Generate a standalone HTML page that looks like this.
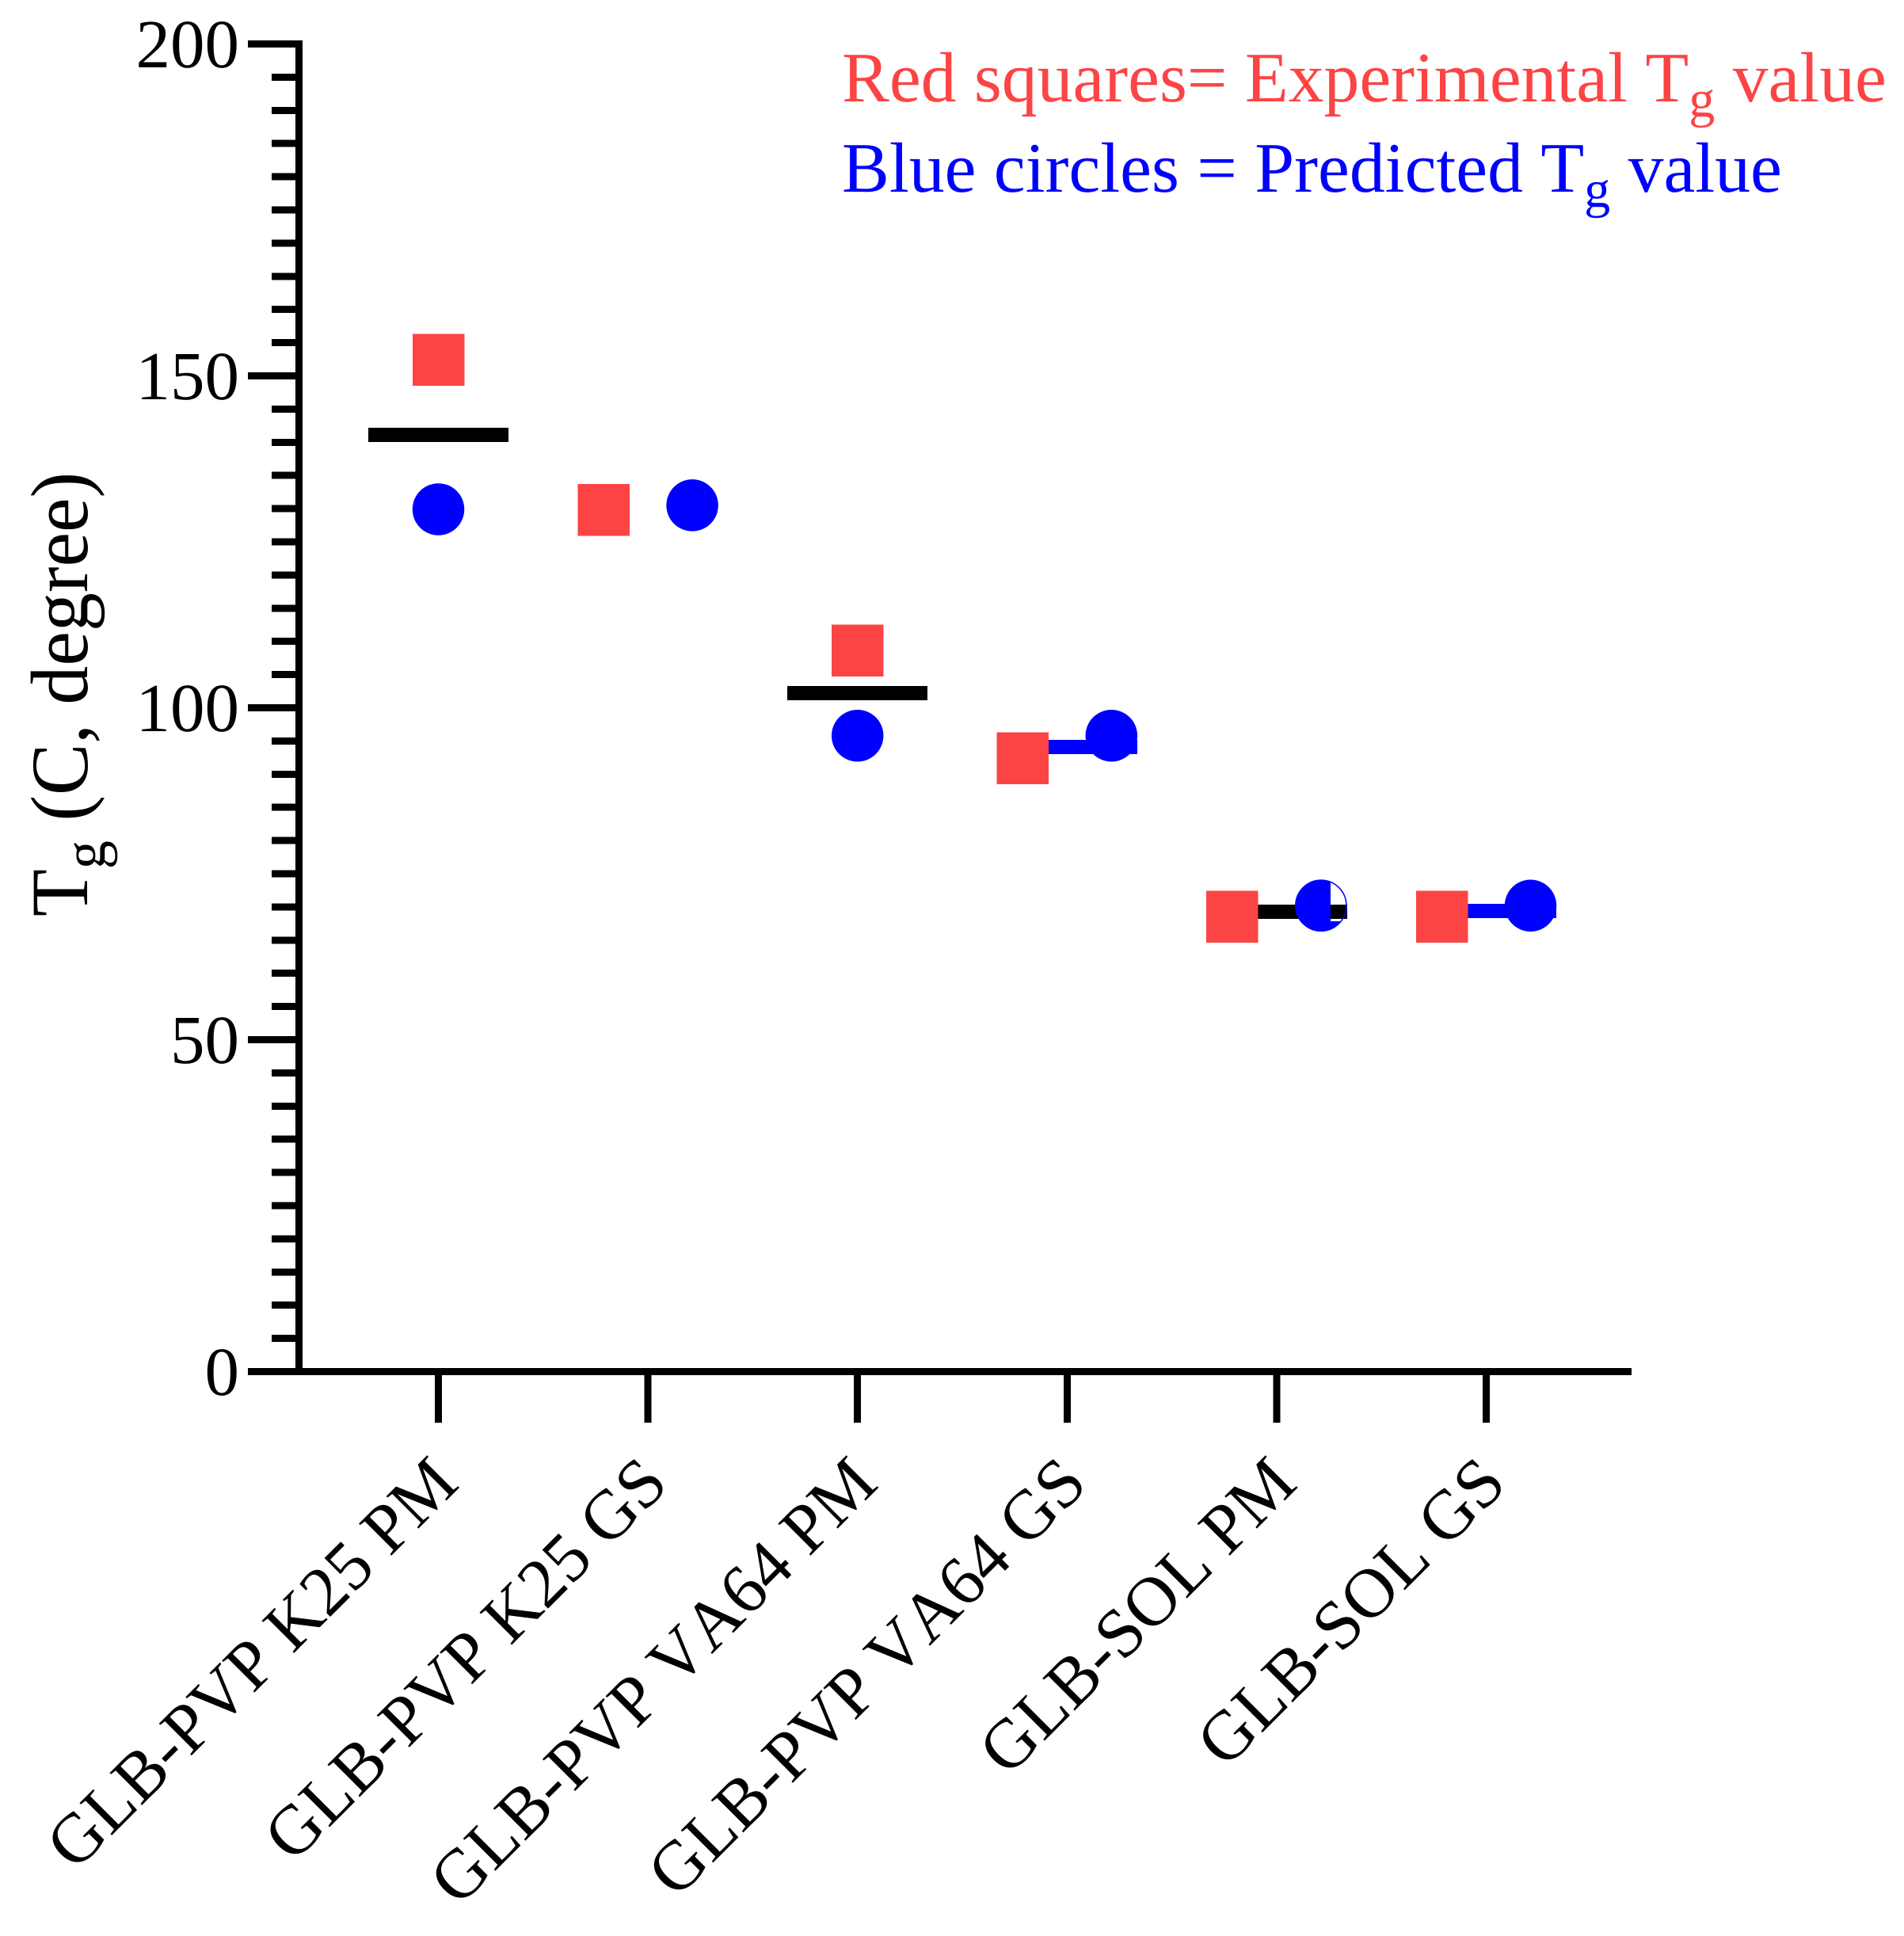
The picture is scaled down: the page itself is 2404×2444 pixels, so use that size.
<!DOCTYPE html>
<html lang="en">
<head>
<meta charset="utf-8">
<title>Tg chart</title>
<style>
html,body{margin:0;padding:0;background:#fff;}
svg{display:block;}
text{font-family:"Liberation Serif","Times New Roman",serif;font-kerning:none;text-rendering:geometricPrecision;}
.axis{fill:#000;}
.tick-label{font-size:87px;fill:#000;text-anchor:end;}
.cat-label{font-size:88px;fill:#000;text-anchor:end;}
.legend{font-size:89.7px;}
</style>
</head>
<body>
<svg id="chart" xmlns="http://www.w3.org/2000/svg" width="2404" height="2444" viewBox="0 0 2404 2444">
  <rect x="0" y="0" width="2404" height="2444" fill="#fff"/>
  <g id="axes" shape-rendering="crispEdges"></g>
  <g id="marks"></g>
  <g id="labels"></g>
  <text transform="translate(110,1157) rotate(-90) scale(1,1.05)" font-size="98" fill="#000">T<tspan font-size="72" dy="21">g</tspan><tspan dy="-21"> (C, degree)</tspan></text>
  <text class="legend" x="1063" y="128" fill="#FC4444">Red squares= Experimental T<tspan font-size="66" dy="19">g</tspan><tspan dy="-19"> value</tspan></text>
  <text class="legend" x="1063" y="242" fill="#0000FF">Blue circles = Predicted T<tspan font-size="66" dy="19">g</tspan><tspan dy="-19"> value</tspan></text>
</svg>
<script>
const categories = ["GLB-PVP K25 PM", "GLB-PVP K25 GS", "GLB-PVP VA64 PM", "GLB-PVP VA64 GS", "GLB-SOL PM", "GLB-SOL GS"];
const experimental = [152.4, 129.8, 108.65, 92.4, 68.5, 68.5];
const predicted = [129.9, 130.5, 95.8, 95.8, 70.2, 70.2];
const means = [141.1, null, 102.2, 94.1, 69.3, 69.4];
const majorTicks = [0, 50, 100, 150, 200];
const minorStep = [5];

const NS = "http://www.w3.org/2000/svg";
const RED = "#FC4444", BLUE = "#0000FF";
const X0 = 553.5, XSTEP = 264.6, Y0 = 1731.5, YUNIT = 8.38;
const SYM = 65.5, SWARM = 56, MEAN_W = 177, MEAN_H = 18;

function xScale(i) { return X0 + XSTEP * i; }
function yScale(v) { return Y0 - YUNIT * v; }
function make(tag, parent, attrs) {
  const el = document.createElementNS(NS, tag);
  for (const k in attrs) el.setAttribute(k, attrs[k]);
  parent.appendChild(el);
  return el;
}

const axes = document.getElementById("axes");
const marks = document.getElementById("marks");
const labels = document.getElementById("labels");

const yTop = yScale(Math.max.apply(null, majorTicks));
const yAxisLine = make("rect", axes, {x: 373, y: yTop - 4.5, width: 9, height: Y0 - yTop + 9, class: "axis"});


const xAxisLine = make("rect", axes, {x: 313, y: Y0 - 4.5, width: 1747, height: 9, class: "axis"});



for (let v = 0; v <= 200; v += minorStep[0]) {
  const major = majorTicks.indexOf(v) >= 0;
  const left = major ? 313 : 343;
  const t = make("rect", axes, {x: left, y: yScale(v) - 4.5, width: 373 - left, height: 9, class: "axis"});
  
  
}

majorTicks.forEach(function (v) {
  const t = make("text", labels, {x: 302, y: yScale(v) + 29.5, class: "tick-label"});
  t.textContent = String(v);
  
  
});

categories.forEach(function (name, i) {
  const cx = xScale(i);
  const tick = make("rect", axes, {x: cx - 4.5, y: Y0, width: 9, height: 64.5, class: "axis"});
  
  

  const ex = cx + 28.5, ey = Y0 + 144.5;
  const lab = make("text", labels, {class: "cat-label", transform: "translate(" + ex + "," + ey + ") rotate(-45)"});
  lab.textContent = name;
  
  

  const ye = yScale(experimental[i]);
  const yp = yScale(predicted[i]);
  const side = Math.abs(ye - yp) < SYM * 1.4 ? SWARM : 0;

  if (means[i] !== null) {
    const my = yScale(means[i]);
    const colour = name.slice(-2) === "GS" ? BLUE : "#000";
    const ml = make("rect", marks, {x: cx - MEAN_W / 2, y: my - MEAN_H / 2, width: MEAN_W, height: MEAN_H, fill: colour, "shape-rendering": "crispEdges"});
    
    
  }

  const sq = make("rect", marks, {x: cx - side - SYM / 2, y: ye - SYM / 2, width: SYM, height: SYM, fill: RED, "shape-rendering": "crispEdges"});
  
  

  const pcx = cx + side;
  const c = make("circle", marks, {cx: pcx, cy: yp, r: SYM / 2, fill: BLUE});
  
  

  if (name === "GLB-SOL PM") {
    const clip = make("clipPath", marks, {id: "half-clip"});
    make("circle", clip, {cx: pcx, cy: yp, r: SYM / 2});
    const w = make("rect", marks, {x: pcx + 12, y: yp - 33, width: 22, height: 53, fill: "#fff", "clip-path": "url(#half-clip)", "shape-rendering": "crispEdges"});
    
    
    const my2 = yScale(means[i]);
    const seg = make("rect", marks, {x: pcx + 12, y: my2 - MEAN_H / 2, width: 21, height: MEAN_H, fill: "#000", "shape-rendering": "crispEdges"});
    
    
    const o = make("circle", marks, {cx: pcx, cy: yp, r: SYM / 2 - 0.7, fill: "none", stroke: BLUE, "stroke-width": 1.5});
    
    
  }
});
</script>
</body>
</html>
